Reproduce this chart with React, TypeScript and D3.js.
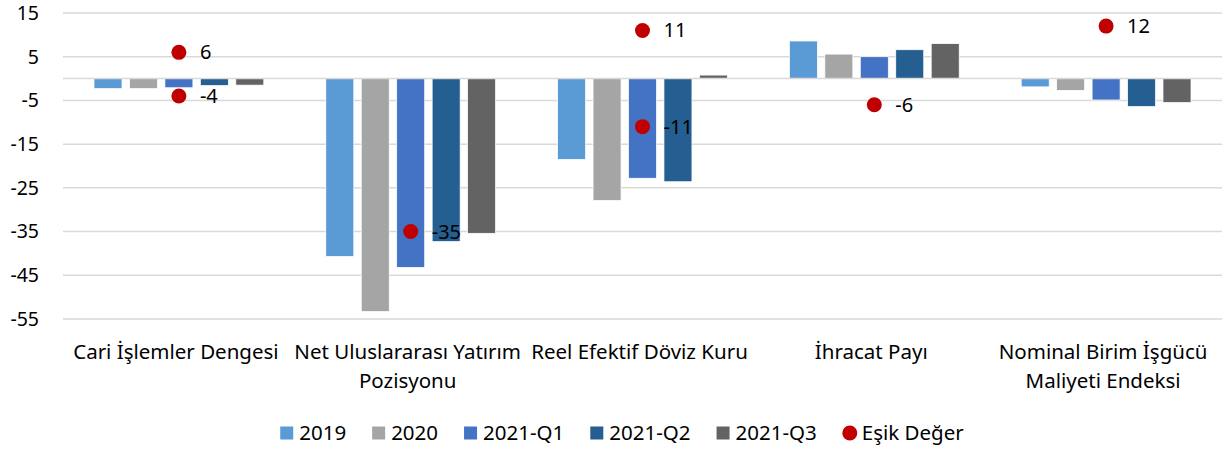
import { useEffect, useRef } from "react"
import * as d3 from "d3"

const categories = [
  "Cari İşlemler Dengesi",
  "Net Uluslararası Yatırım Pozisyonu",
  "Reel Efektif Döviz Kuru",
  "İhracat Payı",
  "Nominal Birim İşgücü Maliyeti Endeksi",
]
const categoryLines = [
  ["Cari İşlemler Dengesi"],
  ["Net Uluslararası Yatırım", "Pozisyonu"],
  ["Reel Efektif Döviz Kuru"],
  ["İhracat Payı"],
  ["Nominal Birim İşgücü", "Maliyeti Endeksi"],
]

const seriesNames = ["2019", "2020", "2021-Q1", "2021-Q2", "2021-Q3"]
const seriesColors = ["#5B9BD5", "#A5A5A5", "#4472C4", "#255E91", "#636363"]

const values2019 = [-2.3, -40.7, -18.5, 8.6, -1.9]
const values2020 = [-2.3, -53.3, -27.9, 5.6, -2.7]
const values2021Q1 = [-2.1, -43.2, -22.8, 5.0, -4.9]
const values2021Q2 = [-1.6, -37.3, -23.6, 6.6, -6.4]
const values2021Q3 = [-1.5, -35.4, 0.8, 8.0, -5.5]

// threshold points ("Eşik Değer")
const thresholdCategory = [0, 0, 1, 2, 2, 3, 4]
const thresholdValues = [6, -4, -35, 11, -11, -6, 12]

const yTicks = [15, 5, -5, -15, -25, -35, -45, -55]

const thresholdName = "Eşik Değer"
const thresholdColor = "#C00000"

export default function App() {
  const svgRef = useRef<SVGSVGElement>(null)

  useEffect(() => {
    if (!svgRef.current) return
    d3.select(svgRef.current).selectAll("*").remove()

    const width = 1225
    const height = 451
    const margin = { top: 13, right: 3, bottom: 132, left: 63 }
    const font = "'Noto Sans', sans-serif"

    const svg = d3.select(svgRef.current).attr("width", width).attr("height", height)

    const allSeries = [values2019, values2020, values2021Q1, values2021Q2, values2021Q3]

    const x0 = d3
      .scaleBand<number>()
      .domain(categories.map((_, i) => i))
      .range([margin.left, width - margin.right])
      .padding(0)

    const x1 = d3
      .scaleBand<number>()
      .domain(seriesNames.map((_, i) => i))
      .range([31, x0.bandwidth() - 31])
      .paddingInner(0.21)

    const y = d3.scaleLinear().domain([-55, 15]).range([height - margin.bottom, margin.top])

    // gridlines
    svg
      .append("g")
      .selectAll("line")
      .data(yTicks)
      .enter()
      .append("line")
      .attr("x1", margin.left)
      .attr("x2", width - margin.right)
      .attr("y1", (d) => y(d))
      .attr("y2", (d) => y(d))
      .attr("stroke", "#D9D9D9")
      .attr("stroke-width", 1.5)

    // y tick labels
    svg
      .append("g")
      .selectAll("text")
      .data(yTicks)
      .enter()
      .append("text")
      .attr("x", 39)
      .attr("y", (d) => y(d))
      .attr("dy", "0.35em")
      .attr("text-anchor", "end")
      .style("font-family", font)
      .style("font-size", "19.5px")
      .style("fill", "#000")
      .text((d) => d)

    // bars
    allSeries.forEach((vals, s) => {
      svg
        .append("g")
        .selectAll("rect")
        .data(vals)
        .enter()
        .append("rect")
        .attr("x", (_, i) => (x0(i) || 0) + (x1(s) || 0))
        .attr("width", x1.bandwidth())
        .attr("y", (d) => y(Math.max(0, d)))
        .attr("height", (d) => Math.abs(y(d) - y(0)))
        .attr("fill", seriesColors[s])
        .attr("stroke", "#fff")
        .attr("stroke-width", 0.75)
    })

    // zero axis line
    svg
      .append("line")
      .attr("x1", margin.left)
      .attr("x2", width - margin.right)
      .attr("y1", y(0))
      .attr("y2", y(0))
      .attr("stroke", "#D9D9D9")
      .attr("stroke-width", 1.5)

    // threshold points + labels
    const pts = thresholdValues.map((v, i) => ({ v, c: thresholdCategory[i] }))
    const cx = (c: number) => (x0(c) || 0) + x0.bandwidth() / 2
    svg
      .append("g")
      .selectAll("circle")
      .data(pts)
      .enter()
      .append("circle")
      .attr("cx", (d) => cx(d.c))
      .attr("cy", (d) => y(d.v))
      .attr("r", 7.5)
      .attr("fill", thresholdColor)
    svg
      .append("g")
      .selectAll("text")
      .data(pts)
      .enter()
      .append("text")
      .attr("x", (d) => cx(d.c) + 21)
      .attr("y", (d) => y(d.v))
      .attr("dy", "0.35em")
      .style("font-family", font)
      .style("font-size", "20px")
      .style("fill", "#000")
      .text((d) => d.v)

    // category labels
    const catG = svg.append("g")
    categoryLines.forEach((lines, i) => {
      lines.forEach((line, j) => {
        catG
          .append("text")
          .attr("x", cx(i) - 3)
          .attr("y", 359 + j * 29)
          .attr("text-anchor", "middle")
          .style("font-family", font)
          .style("font-size", "20.5px")
          .style("fill", "#000")
          .text(line)
      })
    })

    // legend
    const legendNames = [...seriesNames, thresholdName]
    const legendY = 433
    const lg = svg.append("g")
    const items = legendNames.map((name, i) => {
      const g = lg.append("g")
      if (i < seriesNames.length) {
        g.append("rect")
          .attr("x", 0)
          .attr("y", legendY - 6.5)
          .attr("width", 13)
          .attr("height", 13)
          .attr("fill", seriesColors[i])
      } else {
        g.append("circle").attr("cx", 7).attr("cy", legendY).attr("r", 7.5).attr("fill", thresholdColor)
      }
      const t = g
        .append("text")
        .attr("x", 19)
        .attr("y", legendY)
        .attr("dy", "0.35em")
        .style("font-family", font)
        .style("font-size", "20.5px")
        .style("fill", "#000")
        .text(name)
      const w = 19 + (t.node() as SVGTextElement).getComputedTextLength()
      return { g, w }
    })
    const gap = 26
    const total = d3.sum(items, (d) => d.w) + gap * (items.length - 1)
    let cur = 622 - total / 2
    items.forEach((it) => {
      it.g.attr("transform", `translate(${cur},0)`)
      cur += it.w + gap
    })
  }, [])

  return <svg ref={svgRef} style={{ position: "absolute", left: 0, top: 0 }}></svg>
}
